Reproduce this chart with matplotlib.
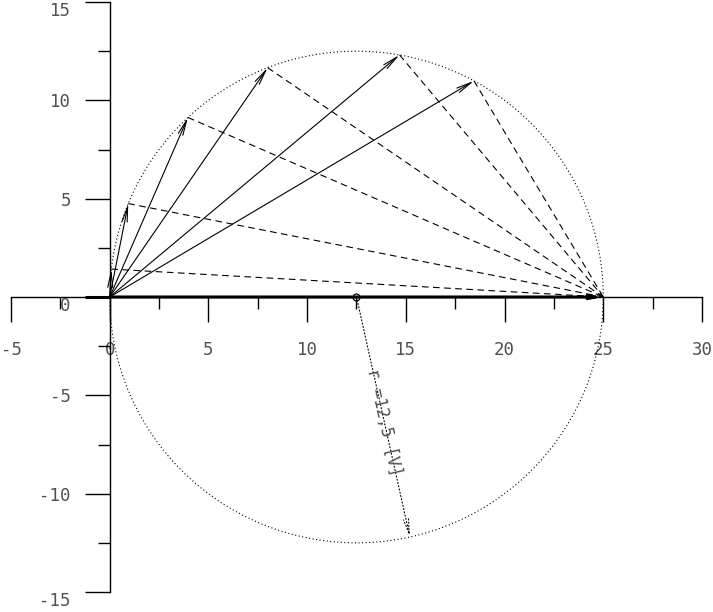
import numpy as np
import matplotlib
matplotlib.use('Agg')
from matplotlib import pyplot as plt
from matplotlib.ticker import FixedLocator

plt.rcParams['font.family'] = ['DejaVu Sans Mono']
plt.rcParams['axes.unicode_minus'] = False

# phasor tips on the circle (volts)
tip_x = [0.08, 0.94, 3.96, 8.0, 14.68, 18.45]
tip_y = [1.42, 4.75, 9.13, 11.66, 12.31, 10.99]
U_total = 25.0
center = (12.5, 0.0)
radius = 12.5
r_end = (15.21, -12.22)
r_label = 'r =12,5 [V]'

x_major = [-5, 0, 5, 10, 15, 20, 25, 30]
x_minor = [-2.5, 2.5, 7.5, 12.5, 17.5, 22.5, 27.5]
y_major = [-15, -10, -5, 0, 5, 10, 15]
y_minor = [-12.5, -7.5, -2.5, 2.5, 7.5, 12.5]

txt_color = '#505050'

fig = plt.figure(figsize = (7.13, 6.12), dpi = 100)
ax = fig.add_axes([11/713, 20/612, 691/713, 590/612])

ax.set_xlim(-5, 30)
ax.set_ylim(-15, 15)

for side in ['top', 'right']:
    ax.spines[side].set_visible(False)
ax.spines['left'].set_position(('data', 0))
ax.spines['bottom'].set_position(('data', 0))
ax.spines['left'].set_linewidth(1.0)
ax.spines['bottom'].set_linewidth(1.0)

ax.xaxis.set_major_locator(FixedLocator(x_major))
ax.xaxis.set_minor_locator(FixedLocator(x_minor))
ax.yaxis.set_major_locator(FixedLocator(y_major))
ax.yaxis.set_minor_locator(FixedLocator(y_minor))
ax.set_xticklabels([str(v) for v in x_major])
ax.set_yticklabels([str(v) for v in y_major])

ax.tick_params(which = 'major', direction = 'out', length = 18, width = 1.0,
               labelsize = 12.5, labelcolor = txt_color)
ax.tick_params(which = 'minor', direction = 'out', length = 8.5, width = 1.0)
ax.tick_params(axis = 'x', which = 'major', pad = 14)
ax.tick_params(axis = 'y', which = 'major', pad = 10)

# circle
t = np.linspace(0, 2 * np.pi, 400)
ax.plot(center[0] + radius * np.cos(t), center[1] + radius * np.sin(t),
        color = 'k', lw = 0.8, ls = (0, (1, 2.2)))

arrow = dict(arrowstyle = '->,head_length=0.9,head_width=0.15', color = 'k',
             lw = 0.8, shrinkA = 0, shrinkB = 0, mutation_scale = 12)

for x, y in zip(tip_x, tip_y):
    ax.annotate('', xy = (x, y), xytext = (0, 0), arrowprops = arrow)
    ax.plot([x, U_total], [y, 0], color = 'k', lw = 0.8, ls = (0, (6, 4)))

thick = dict(arrow, lw = 2.2, arrowstyle = '->,head_length=0.5,head_width=0.1')
ax.annotate('', xy = (U_total, 0), xytext = (0, 0), arrowprops = thick)

# radius
rad = dict(arrow, ls = (0, (1, 2)))
ax.annotate('', xy = r_end, xytext = center, arrowprops = rad)
ax.plot([center[0]], [center[1]], marker = 'o', ms = 5, mfc = 'none', mec = 'k', mew = 0.9)
ang = np.degrees(np.arctan2(r_end[1] - center[1], r_end[0] - center[0]))
mx = center[0] + 0.52 * (r_end[0] - center[0])
my = center[1] + 0.52 * (r_end[1] - center[1])
ax.text(mx, my, r_label, rotation = ang, rotation_mode = 'anchor',
        ha = 'center', va = 'center', fontsize = 12, color = txt_color)

# y labels at 0 and ends sit below the tick
for tick, v in zip(ax.yaxis.get_major_ticks(), y_major):
    if v in (-15, 0, 15):
        tick.label1.set_va('top')
    if v == 0:
        tick.tick1line.set_markeredgewidth(2.2)

fig.savefig('out.png', dpi = 100)
